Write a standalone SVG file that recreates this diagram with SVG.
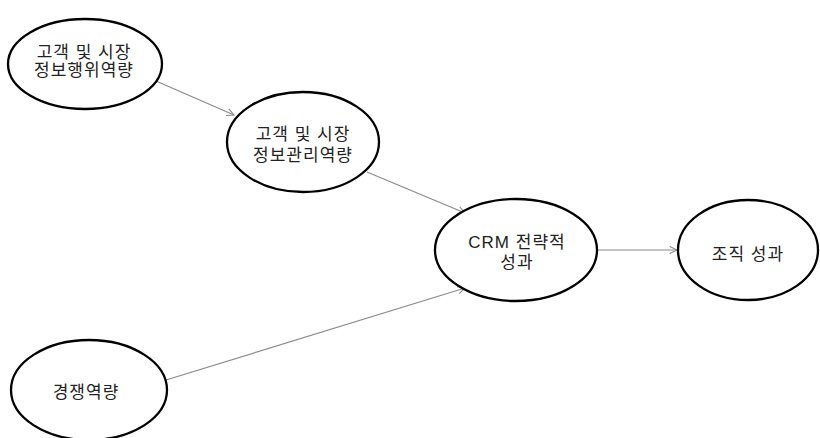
<svg xmlns="http://www.w3.org/2000/svg" width="820" height="438" viewBox="0 0 820 438">
<style>
.node ellipse{fill:#fff;stroke:#000;stroke-width:2.3}
.node text{font-family:"Liberation Sans","Noto Sans CJK KR",sans-serif;font-size:17px;letter-spacing:1px;fill:#222;text-anchor:middle}
.edge{stroke:#8a8a8a;stroke-width:1.2;fill:none;marker-end:url(#arr)}
</style>
<defs>
<marker id="arr" viewBox="0 0 10 10" refX="9" refY="5" markerWidth="9" markerHeight="9" markerUnits="userSpaceOnUse" orient="auto">
<path d="M1,1 L9,5 L1,9" fill="none" stroke="#8a8a8a" stroke-width="1.2"/>
</marker>
</defs>
<rect width="820" height="438" fill="#fff"/>
<g id="connectors">
<line class="edge" x1="156" y1="81" x2="234" y2="115"/>
<line class="edge" x1="367" y1="172" x2="465" y2="213"/>
<line class="edge" x1="166" y1="380" x2="465" y2="288"/>
<line class="edge" x1="598" y1="250" x2="677" y2="250"/>
</g>
<g id="n1" class="node">
<ellipse cx="85" cy="64" rx="77" ry="45"/>
<text x="84" y="57.5">고객 및 시장</text>
<text x="84" y="76">정보행위역량</text>
</g>
<g id="n2" class="node">
<ellipse cx="303" cy="142" rx="76" ry="50"/>
<text x="303" y="139.5">고객 및 시장</text>
<text x="303" y="160.5">정보관리역량</text>
</g>
<g id="n3" class="node">
<ellipse cx="516" cy="250" rx="81" ry="51"/>
<text x="517" y="247.5">CRM 전략적</text>
<text x="517" y="267.5">성과</text>
</g>
<g id="n4" class="node">
<ellipse cx="748" cy="250" rx="70" ry="50"/>
<text x="748" y="259.5">조직 성과</text>
</g>
<g id="n5" class="node">
<ellipse cx="89" cy="390" rx="78" ry="50"/>
<text x="86" y="397.5">경쟁역량</text>
</g>
</svg>
